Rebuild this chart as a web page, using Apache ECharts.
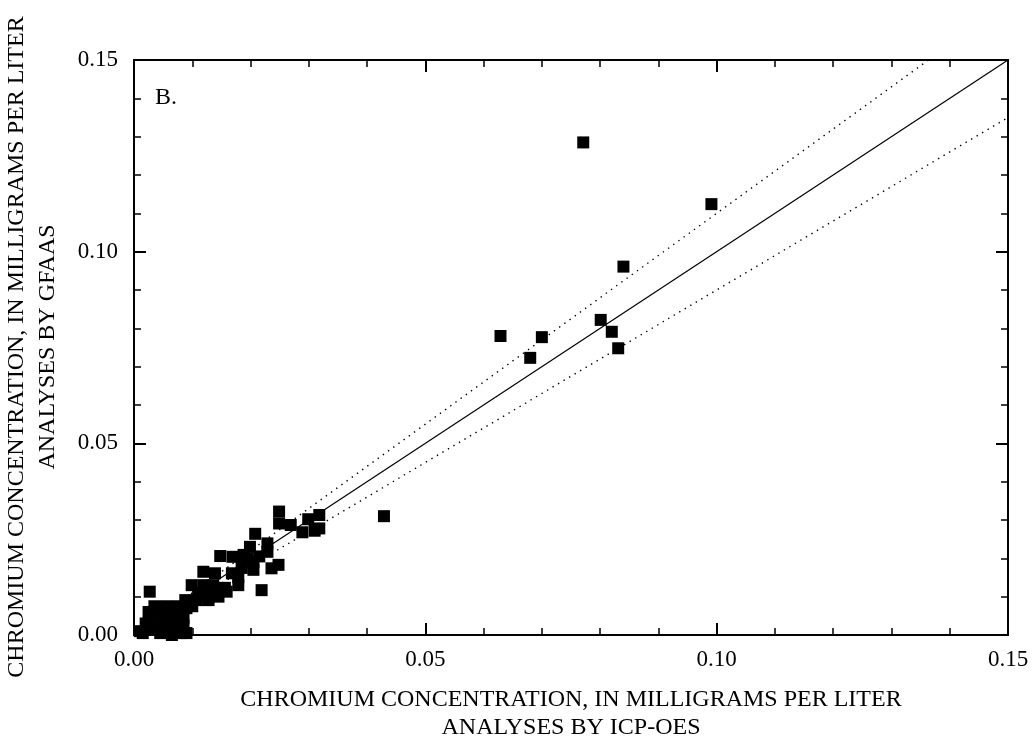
<!DOCTYPE html>
<html>
<head>
<meta charset="utf-8">
<script src="https://cdn.jsdelivr.net/npm/echarts@6/dist/echarts.min.js"></script>
<style>
  html, body { margin: 0; padding: 0; background: #fff; }
  #chart { width: 1034px; height: 742px; }
</style>
</head>
<body>
<div id="chart"></div>
<script>
// Chromium concentration: ICP-OES (x) vs GFAAS (y), milligrams per liter
const icpOes = [
  // low-concentration samples
  0.0015, 0.0025, 0.0030, 0.0035, 0.0040, 0.0045, 0.0050, 0.0050, 0.0055, 0.0060,
  0.0060, 0.0065, 0.0070, 0.0070, 0.0075, 0.0075, 0.0080, 0.0080, 0.0085, 0.0090,
  0.0090, 0.0095, 0.0045, 0.0025, 0.0035, 0.0065, 0.0055, 0.0020, 0.0010, 0.0085,
  0.0040, 0.0027,
  // intermediate samples
  0.0088, 0.0108, 0.0128, 0.0099, 0.0119, 0.0136, 0.0156, 0.0159, 0.0119, 0.0139,
  0.0168, 0.0179, 0.0179, 0.0110, 0.0130, 0.0145, 0.0100, 0.0120, 0.0148, 0.0169,
  0.0188, 0.0185, 0.0205, 0.0205, 0.0185, 0.0215, 0.0195, 0.0199, 0.0208, 0.0229,
  0.0229, 0.0219, 0.0236, 0.0248,
  // higher samples
  0.0249, 0.0249, 0.0269, 0.0289, 0.0299, 0.0310, 0.0318, 0.0318, 0.0429,
  0.0629, 0.0680, 0.0700, 0.0771, 0.0801, 0.0820, 0.0831, 0.0840, 0.0991
];
const gfaas = [
  0.0005, 0.0015, 0.0040, 0.0075, 0.0020, 0.0060, 0.0035, 0.0010, 0.0050, 0.0025,
  0.0065, 0.0045, 0.0015, 0.0060, 0.0035, 0.0075, 0.0005, 0.0050, 0.0025, 0.0070,
  0.0005, 0.0085, 0.0005, 0.0060, 0.0025, 0.0000, 0.0075, 0.0030, 0.0010, 0.0045,
  0.0070, 0.0113,
  0.0091, 0.0091, 0.0091, 0.0130, 0.0130, 0.0130, 0.0123, 0.0113, 0.0165, 0.0161,
  0.0161, 0.0151, 0.0130, 0.0110, 0.0110, 0.0100, 0.0075, 0.0105, 0.0206, 0.0204,
  0.0209, 0.0192, 0.0190, 0.0170, 0.0175, 0.0205, 0.0200, 0.0230, 0.0264, 0.0239,
  0.0217, 0.0117, 0.0174, 0.0183,
  0.0322, 0.0291, 0.0287, 0.0268, 0.0302, 0.0272, 0.0313, 0.0278, 0.0310,
  0.0780, 0.0723, 0.0777, 0.1285, 0.0822, 0.0791, 0.0748, 0.0961, 0.1124
];

// Reference lines: 1:1 and +/-10 percent
const oneToOne = [[0, 0], [0.15, 0.15]];
const plusTen = [[0, 0], [0.15, 0.165]];
const minusTen = [[0, 0], [0.15, 0.135]];

const axisTicks = [0.00, 0.05, 0.10, 0.15];
const xTitle = ['CHROMIUM CONCENTRATION, IN MILLIGRAMS PER LITER', 'ANALYSES BY ICP-OES'];
const yTitle = ['CHROMIUM CONCENTRATION, IN MILLIGRAMS PER LITER', 'ANALYSES BY GFAAS'];
const panelLabel = 'B.';

const FONT = '"Liberation Serif", "Times New Roman", serif';
const points = icpOes.map((x, i) => [x, gfaas[i]]);

function axis(showLabels, pos, isX) {
  return {
    type: 'value',
    position: pos,
    min: axisTicks[0],
    max: axisTicks[axisTicks.length - 1],
    interval: axisTicks[1] - axisTicks[0],
    axisLine: { show: true, onZero: false, lineStyle: { color: '#000', width: 2 } },
    axisTick: { show: true, inside: true, length: 12, lineStyle: { color: '#000', width: 2 } },
    minorTick: { show: true, splitNumber: 5, length: 7, lineStyle: { color: '#000', width: 1.5 } },
    splitLine: { show: false },
    minorSplitLine: { show: false },
    axisLabel: {
      show: showLabels,
      margin: isX ? 13 : 16,
      color: '#000',
      fontFamily: FONT,
      fontSize: 23,
      formatter: v => v.toFixed(2)
    }
  };
}

const chart = echarts.init(document.getElementById('chart'), null, { renderer: 'canvas' });
chart.setOption({
  animation: false,
  backgroundColor: '#fff',
  grid: { left: 134, right: 26, top: 60, bottom: 107, containLabel: false },
  xAxis: [axis(true, 'bottom', true), axis(false, 'top', true)],
  yAxis: [axis(true, 'left', false), axis(false, 'right', false)],
  graphic: [
    { type: 'text', left: 155, top: 86,
      style: { text: panelLabel, font: '24px ' + FONT, fill: '#000' } },
    { type: 'text', x: 571, y: 700,
      style: { text: xTitle[0], font: '24px ' + FONT, fill: '#000', textAlign: 'center', textVerticalAlign: 'middle' } },
    { type: 'text', x: 571, y: 728,
      style: { text: xTitle[1], font: '24px ' + FONT, fill: '#000', textAlign: 'center', textVerticalAlign: 'middle' } },
    { type: 'text', x: 17, y: 347, rotation: Math.PI / 2,
      style: { text: yTitle[0], font: '24px ' + FONT, fill: '#000', textAlign: 'center', textVerticalAlign: 'middle' } },
    { type: 'text', x: 48, y: 347, rotation: Math.PI / 2,
      style: { text: yTitle[1], font: '24px ' + FONT, fill: '#000', textAlign: 'center', textVerticalAlign: 'middle' } }
  ],
  series: [
    { type: 'line', data: oneToOne, symbol: 'none', clip: true, silent: true,
      lineStyle: { color: '#000', width: 1.2 }, z: 1 },
    { type: 'line', data: plusTen, symbol: 'none', clip: true, silent: true,
      lineStyle: { color: '#000', width: 1.4, type: [1.4, 5] }, z: 1 },
    { type: 'line', data: minusTen, symbol: 'none', clip: true, silent: true,
      lineStyle: { color: '#000', width: 1.4, type: [1.4, 5] }, z: 1 },
    { type: 'scatter', data: points, symbol: 'rect', symbolSize: 12, clip: false,
      itemStyle: { color: '#000', opacity: 1 }, z: 3 }
  ]
});
</script>
</body>
</html>
